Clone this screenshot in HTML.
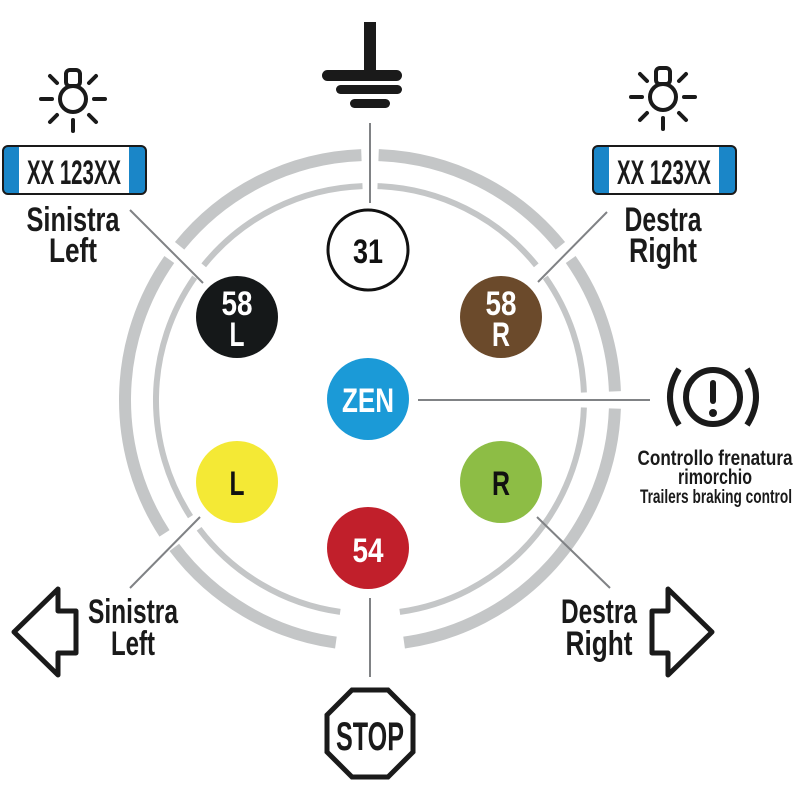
<!DOCTYPE html>
<html><head><meta charset="utf-8"><style>
html,body{margin:0;padding:0;background:#fff;}
svg{display:block}
text{font-family:"Liberation Sans",sans-serif;font-weight:bold;}
</style></head><body>
<svg id="s" width="800" height="800" viewBox="0 0 800 800" xmlns="http://www.w3.org/2000/svg">
<g id="rings" fill="none" stroke="#c4c6c7"></g>
<g stroke="#808285" stroke-width="2">
<line x1="370" y1="123" x2="370" y2="203"/>
<line x1="130" y1="210" x2="203" y2="283"/>
<line x1="538" y1="282" x2="607" y2="212"/>
<line x1="418" y1="400" x2="650" y2="400"/>
<line x1="200" y1="517" x2="130" y2="588"/>
<line x1="537" y1="517" x2="610" y2="588"/>
<line x1="370" y1="598" x2="370" y2="677"/>
</g>
<circle cx="368" cy="250" r="40" fill="#fff" stroke="#111" stroke-width="3"/>
<circle cx="237" cy="317" r="41" fill="#151819"/>
<circle cx="501" cy="317" r="41" fill="#6b4a2b"/>
<circle cx="368" cy="399" r="41" fill="#1b9ad7"/>
<circle cx="237" cy="482" r="41" fill="#f4e935"/>
<circle cx="501" cy="482" r="41" fill="#8dbd45"/>
<circle cx="368" cy="548" r="41" fill="#c11f2b"/>
<g text-anchor="middle" font-size="34">
<text x="368" y="263" fill="#111" textLength="30" lengthAdjust="spacingAndGlyphs">31</text>
<text x="237" y="315" fill="#fff" textLength="31" lengthAdjust="spacingAndGlyphs">58</text>
<text x="237" y="346" fill="#fff" textLength="15" lengthAdjust="spacingAndGlyphs">L</text>
<text x="501" y="315" fill="#fff" textLength="31" lengthAdjust="spacingAndGlyphs">58</text>
<text x="501" y="346" fill="#fff" textLength="18" lengthAdjust="spacingAndGlyphs">R</text>
<text x="368" y="412" fill="#fff" textLength="52" lengthAdjust="spacingAndGlyphs">ZEN</text>
<text x="237" y="495" fill="#111" textLength="15" lengthAdjust="spacingAndGlyphs">L</text>
<text x="501" y="495" fill="#111" textLength="18" lengthAdjust="spacingAndGlyphs">R</text>
<text x="368" y="562" fill="#fff" textLength="31" lengthAdjust="spacingAndGlyphs">54</text>
</g>
<!-- ground -->
<g fill="#1a1a1a">
<rect x="364" y="22" width="12" height="52"/>
<rect x="322" y="70" width="80" height="11" rx="5.5"/>
<rect x="336" y="85" width="66" height="9" rx="4.5"/>
<rect x="350" y="99" width="40" height="9" rx="4.5"/>
</g>
<!-- bulbs -->
<g id="bulb" fill="none" stroke="#1a1a1a" stroke-width="4" stroke-linecap="round">
<circle cx="73" cy="99" r="13"/>
<rect x="66" y="70" width="14" height="16" rx="4"/>
<line x1="41" y1="99" x2="52" y2="99"/><line x1="94" y1="99" x2="105" y2="99"/>
<line x1="50" y1="76" x2="57" y2="83"/><line x1="96" y1="76" x2="89" y2="83"/>
<line x1="50" y1="122" x2="57" y2="115"/><line x1="96" y1="122" x2="89" y2="115"/>
<line x1="73" y1="120" x2="73" y2="131"/>
</g>
<use href="#bulb" transform="translate(590,-2)"/>
<!-- plates -->
<g id="plate">
<rect x="3" y="146" width="143" height="48" rx="5" fill="#1a86c8" stroke="#1a1a1a" stroke-width="2"/>
<rect x="19" y="147" width="110" height="46" fill="#fff"/>
<text x="74" y="184" text-anchor="middle" font-size="34" fill="#1a1a1a" textLength="94" lengthAdjust="spacingAndGlyphs">XX 123XX</text>
</g>
<use href="#plate" transform="translate(590,0)"/>
<g font-size="34" fill="#1a1a1a" text-anchor="middle">
<text x="73" y="231" textLength="93" lengthAdjust="spacingAndGlyphs">Sinistra</text>
<text x="73" y="262" textLength="48" lengthAdjust="spacingAndGlyphs">Left</text>
<text x="663" y="231" textLength="77" lengthAdjust="spacingAndGlyphs">Destra</text>
<text x="663" y="262" textLength="68" lengthAdjust="spacingAndGlyphs">Right</text>
<text x="133" y="623" textLength="90" lengthAdjust="spacingAndGlyphs">Sinistra</text>
<text x="133" y="655" textLength="44" lengthAdjust="spacingAndGlyphs">Left</text>
<text x="599" y="623" textLength="76" lengthAdjust="spacingAndGlyphs">Destra</text>
<text x="599" y="655" textLength="67" lengthAdjust="spacingAndGlyphs">Right</text>
</g>
<!-- brake icon -->
<g fill="none" stroke="#1a1a1a" stroke-width="6">
<circle cx="713" cy="397" r="27"/>
<path d="M679 369 Q661 397 679 425"/>
<path d="M747 369 Q765 397 747 425"/>
</g>
<rect x="710" y="380" width="6" height="24" rx="3" fill="#1a1a1a"/>
<circle cx="713" cy="413" r="4" fill="#1a1a1a"/>
<g fill="#1a1a1a" text-anchor="middle">
<text x="715" y="465" font-size="21" textLength="155" lengthAdjust="spacingAndGlyphs">Controllo frenatura</text>
<text x="715" y="484" font-size="21" textLength="74" lengthAdjust="spacingAndGlyphs">rimorchio</text>
<text x="716" y="503" font-size="19" textLength="152" lengthAdjust="spacingAndGlyphs">Trailers braking control</text>
</g>
<!-- arrows -->
<path d="M14 632 L58 589 L58 611 L76 611 L76 653 L58 653 L58 675 Z" fill="none" stroke="#1a1a1a" stroke-width="5" stroke-linejoin="round"/>
<path d="M712 632 L668 589 L668 611 L652 611 L652 653 L668 653 L668 675 Z" fill="none" stroke="#1a1a1a" stroke-width="5" stroke-linejoin="round"/>
<!-- stop -->
<polygon points="352,690 388,690 413,715 413,752 388,777 352,777 327,752 327,715" fill="none" stroke="#1a1a1a" stroke-width="5"/>
<text x="370" y="750" text-anchor="middle" font-size="40" fill="#1a1a1a" textLength="68" lengthAdjust="spacingAndGlyphs">STOP</text>
</svg>
<script>
(function(){
var g=document.getElementById('rings'),cx=370,cy=400;
function arc(r,a1,a2,w){
 var p=function(a){a=a*Math.PI/180;return (cx+r*Math.cos(a)).toFixed(1)+' '+(cy-r*Math.sin(a)).toFixed(1);};
 var large=(a2-a1)>180?1:0;
 var e=document.createElementNS('http://www.w3.org/2000/svg','path');
 e.setAttribute('d','M'+p(a1)+' A'+r+' '+r+' 0 '+large+' 0 '+p(a2));
 e.setAttribute('stroke-width',w);g.appendChild(e);
}
var gaps=[[-82,-2],[2,35],[39,88],[92,141],[145,213],[217,262]];
[[245,12],[214,6]].forEach(function(R){gaps.forEach(function(s){arc(R[0],s[0],s[1],R[1]);});});
})();
</script>
</body></html>
